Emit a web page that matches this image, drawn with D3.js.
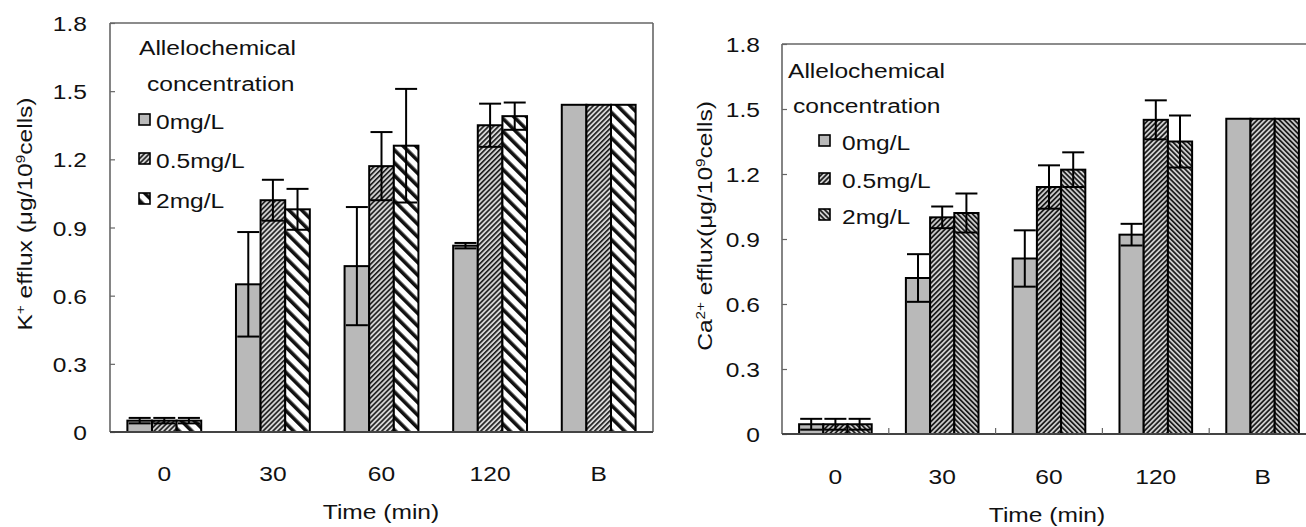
<!DOCTYPE html>
<html>
<head>
<meta charset="utf-8">
<script src="https://cdn.jsdelivr.net/npm/d3@7"></script>
<style>
  html, body { margin: 0; padding: 0; background: #fff; }
  svg text { font-family: "Liberation Sans", Arial, sans-serif; fill: #111; }
</style>
</head>
<body>
<div id="chart"></div>
<script>
// --- DATA ---
const categories = ["0", "30", "60", "120", "B"];
const seriesNames = ["0mg/L", "0.5mg/L", "2mg/L"];
const yTicks = [0, 0.3, 0.6, 0.9, 1.2, 1.5, 1.8];

// K+ efflux (left panel)
const kMean0 = [0.05, 0.65, 0.73, 0.82, 1.44];
const kMean05 = [0.05, 1.02, 1.17, 1.35, 1.44];
const kMean2 = [0.05, 0.98, 1.26, 1.39, 1.44];
const kErr0 = [0.012, 0.23, 0.26, 0.012, 0];
const kErr05 = [0.012, 0.09, 0.15, 0.095, 0];
const kErr2 = [0.012, 0.09, 0.25, 0.06, 0];

// Ca2+ efflux (right panel)
const caMean0 = [0.045, 0.72, 0.81, 0.92, 1.455];
const caMean05 = [0.045, 1.00, 1.14, 1.45, 1.455];
const caMean2 = [0.045, 1.02, 1.22, 1.35, 1.455];
const caErr0 = [0.025, 0.11, 0.13, 0.05, 0];
const caErr05 = [0.025, 0.05, 0.10, 0.09, 0];
const caErr2 = [0.025, 0.09, 0.08, 0.12, 0];

const W = 1306, H = 527;
const FS = 21;      // taille de police
const SX = 1.17;    // étirement horizontal du texte (figure scannée)

const svg = d3.select("#chart").append("svg")
    .attr("width", W)
    .attr("height", H);

const defs = svg.append("defs");

// hachures : bandes tournées
function hatch(id, angle, spacing, lineW, color, bg) {
    const p = defs.append("pattern")
        .attr("id", id)
        .attr("patternUnits", "userSpaceOnUse")
        .attr("width", spacing)
        .attr("height", spacing)
        .attr("patternTransform", `rotate(${angle})`);
    p.append("rect").attr("width", spacing).attr("height", spacing).attr("fill", bg);
    p.append("rect").attr("x", 0).attr("width", lineW).attr("height", spacing).attr("fill", color);
}
hatch("kFine", 45, 3.5, 1.6, "#1a1a1a", "#d4d4d4");
hatch("kWide", -45, 9, 3.6, "#111", "#fff");
hatch("caFine", 45, 3.5, 1.7, "#1a1a1a", "#cccccc");
hatch("caBack", -45, 3.5, 1.7, "#1a1a1a", "#cccccc");

const gray = "#b9b9b9";

// texte étiré horizontalement
function stretchText(sel, x, y, str, anchor) {
    return sel.append("text")
        .attr("transform", `translate(${x},${y}) scale(${SX},1)`)
        .attr("text-anchor", anchor || "start")
        .attr("font-size", FS)
        .text(str);
}

/**
 * Dessine un panneau (barres groupées + barres d'erreur + légende)
 */
function drawPanel(cfg) {
    const g = svg.append("g");
    const x = d3.scaleBand()
        .domain(categories)
        .range([cfg.left, cfg.right])
        .paddingInner(0.32)
        .paddingOuter(0.16);
    const step = x.step();
    const xs = d3.scaleBand().domain(seriesNames).range([0, x.bandwidth()]);
    const y = d3.scaleLinear().domain([0, 1.8]).range([cfg.bottom, cfg.top]);

    // cadre
    const frame = g.append("g").attr("stroke", "#666").attr("stroke-width", 1.6).attr("fill", "none");
    frame.append("line").attr("x1", cfg.left).attr("x2", cfg.left).attr("y1", cfg.top).attr("y2", cfg.bottom);
    frame.append("line").attr("x1", cfg.left).attr("x2", cfg.right).attr("y1", cfg.top).attr("y2", cfg.top);
    if (cfg.rightBorder) {
        frame.append("line").attr("x1", cfg.right).attr("x2", cfg.right).attr("y1", cfg.top).attr("y2", cfg.bottom);
    }

    // axe y (graduations vers l'intérieur)
    const yAxis = g.append("g")
        .attr("transform", `translate(${cfg.left},0)`)
        .call(d3.axisRight(y).tickValues(yTicks).tickSize(5).tickFormat(d => d === 0 ? "0" : d3.format(".1f")(d)));
    yAxis.select(".domain").remove();
    yAxis.selectAll(".tick line").attr("stroke", "#666").attr("stroke-width", 1.2);
    yAxis.selectAll(".tick text")
        .attr("x", (cfg.labelX - cfg.left) / SX)
        .attr("transform", `scale(${SX},1)`)
        .attr("dy", "0.36em")
        .attr("text-anchor", "end")
        .attr("font-size", FS)
        .attr("fill", "#111");

    // barres
    const series = cfg.means.map((m, si) => ({name: seriesNames[si], means: m, errs: cfg.errs[si], fill: cfg.fills[si]}));
    const bars = [];
    series.forEach(s => {
        categories.forEach((c, ci) => {
            bars.push({cat: c, name: s.name, v: s.means[ci], e: s.errs[ci], fill: s.fill});
        });
    });

    g.append("g").selectAll("rect")
        .data(bars)
        .join("rect")
        .attr("x", d => x(d.cat) + xs(d.name))
        .attr("y", d => y(d.v))
        .attr("width", xs.bandwidth())
        .attr("height", d => y(0) - y(d.v))
        .attr("fill", d => d.fill)
        .attr("stroke", "#000")
        .attr("stroke-width", 2);

    // barres d'erreur
    const cap = 11;
    const eb = g.append("g").attr("stroke", "#000").attr("stroke-width", 2);
    bars.filter(d => d.e > 0).forEach(d => {
        const cx = x(d.cat) + xs(d.name) + xs.bandwidth() / 2;
        eb.append("line").attr("x1", cx).attr("x2", cx).attr("y1", y(d.v - d.e)).attr("y2", y(d.v + d.e));
        eb.append("line").attr("x1", cx - cap).attr("x2", cx + cap).attr("y1", y(d.v + d.e)).attr("y2", y(d.v + d.e));
        eb.append("line").attr("x1", cx - cap).attr("x2", cx + cap).attr("y1", y(d.v - d.e)).attr("y2", y(d.v - d.e));
    });

    // ligne de base
    g.append("line")
        .attr("x1", cfg.left).attr("x2", cfg.right)
        .attr("y1", cfg.bottom).attr("y2", cfg.bottom)
        .attr("stroke", "#444").attr("stroke-width", 2);

    // graduations entre catégories
    if (cfg.xTicks) {
        g.append("g").selectAll("line")
            .data(categories.slice(1))
            .join("line")
            .attr("x1", d => x(d) - step * 0.16)
            .attr("x2", d => x(d) - step * 0.16)
            .attr("y1", cfg.bottom).attr("y2", cfg.bottom - 6)
            .attr("stroke", "#666").attr("stroke-width", 1.2);
    }

    // étiquettes x
    categories.forEach(c => {
        stretchText(g, x(c) + x.bandwidth() / 2, cfg.xLabelY, c, "middle");
    });
    stretchText(g, cfg.titleX, cfg.titleY, "Time (min)", "middle");

    // titre y
    const yt = g.append("text")
        .attr("transform", `translate(${cfg.yTitleX},${cfg.yTitleY}) rotate(-90) scale(${SX},1)`)
        .attr("text-anchor", "middle")
        .attr("font-size", FS);
    cfg.yTitle.forEach(part => {
        const t = yt.append("tspan").text(part.t);
        if (part.sup) t.attr("baseline-shift", "super").attr("font-size", FS * 0.62);
    });

    // légende
    const lg = g.append("g");
    stretchText(lg, cfg.leg.x1, cfg.leg.y1, "Allelochemical");
    stretchText(lg, cfg.leg.x2, cfg.leg.y2, "concentration");
    series.forEach((s, i) => {
        const yy = cfg.leg.items[i];
        lg.append("rect")
            .attr("x", cfg.leg.sx).attr("y", yy - 15)
            .attr("width", 11).attr("height", 11)
            .attr("fill", s.fill).attr("stroke", "#000").attr("stroke-width", 1.6);
        stretchText(lg, cfg.leg.tx, yy, s.name);
    });
}

drawPanel({
    left: 110, right: 653, top: 23, bottom: 432,
    rightBorder: true, xTicks: false,
    labelX: 87,
    xLabelY: 481, titleX: 381, titleY: 519,
    yTitleX: 32, yTitleY: 214,
    yTitle: [{t: "K"}, {t: "+", sup: true}, {t: " efflux (μg/10"}, {t: "9", sup: true}, {t: "cells)"}],
    means: [kMean0, kMean05, kMean2],
    errs: [kErr0, kErr05, kErr2],
    fills: [gray, "url(#kFine)", "url(#kWide)"],
    leg: {x1: 139, y1: 55, x2: 147, y2: 91, sx: 139, tx: 156, items: [129, 168, 208]}
});

drawPanel({
    left: 782, right: 1316, top: 44, bottom: 434,
    rightBorder: false, xTicks: true,
    labelX: 760,
    xLabelY: 484, titleX: 1047, titleY: 522,
    yTitleX: 712, yTitleY: 226,
    yTitle: [{t: "Ca"}, {t: "2+", sup: true}, {t: " efflux(μg/10"}, {t: "9", sup: true}, {t: "cells)"}],
    means: [caMean0, caMean05, caMean2],
    errs: [caErr0, caErr05, caErr2],
    fills: [gray, "url(#caFine)", "url(#caBack)"],
    leg: {x1: 788, y1: 78, x2: 793, y2: 113, sx: 819, tx: 842, items: [150, 188, 224]}
});
</script>
</body>
</html>
